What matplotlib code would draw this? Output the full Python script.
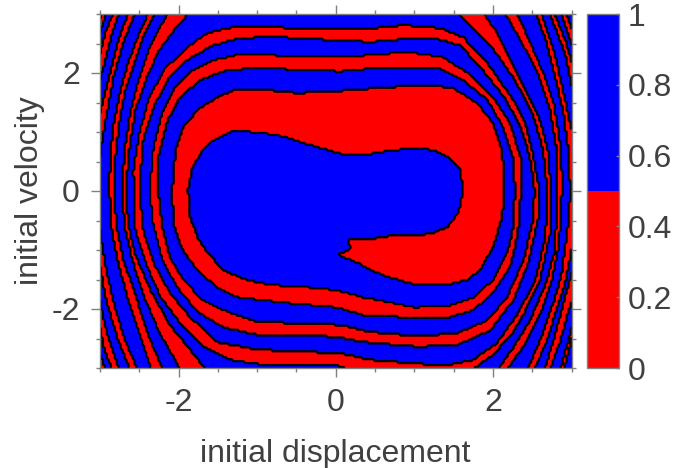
import numpy as np
import matplotlib
matplotlib.use("Agg")
import matplotlib.pyplot as plt
from matplotlib.path import Path
from matplotlib.ticker import MultipleLocator

# basin boundaries as (displacement, velocity).
# Both edges start at the tip of the red tongue and wind outward,
# the points at +-3.06 are where an edge runs outside the plotted window
edge_a_turn1 = [(.04,-1.07),(.08,-1.05),(.16,-1.02),(.18,-.95),(.16,-.83),(.22,-.80),(.50,-.80),(.69,-.76),
    (1.20,-.73),(1.42,-.61),(1.56,-.37),(1.62,.02),(1.58,.36),(1.42,.58),(1.24,.69),(.99,.73),(.69,.68),(.44,.63),
    (.06,.63),(-.41,.81),(-.74,.95),(-1.09,1.00),(-1.34,1.00),(-1.56,.86),(-1.72,.64),(-1.83,.36),(-1.88,.02),
    (-1.85,-.44),(-1.76,-.78),(-1.63,-1.05),(-1.43,-1.34),(-1.18,-1.49),(-.83,-1.59),(-.36,-1.63),(0,-1.68),
    (.35,-1.80),(.99,-1.97),(1.42,-1.95),(1.75,-1.81),(2.00,-1.51),(2.18,-1.05),(2.26,-.61),(2.28,.02)]
edge_a_turn2 = [(2.26,.53),(2.13,1.08),(1.93,1.54),(1.62,1.88),(1.33,2.08),(.91,2.10),(.48,2.08),(.06,2.03),
    (-.36,2.05),(-.87,2.08),(-1.09,2.08),(-1.43,2.03),(-1.72,1.88),(-1.98,1.59),(-2.14,1.20),(-2.26,.58),(-2.26,.02),
    (-2.21,-.61),(-2.11,-1.12),(-1.94,-1.51),(-1.69,-1.85),(-1.34,-2.07),(-1.00,-2.22),(-.49,-2.24),(.06,-2.27),
    (.44,-2.39),(1.04,-2.46),(1.55,-2.41),(1.93,-2.19),(2.18,-1.80),(2.39,-1.17),(2.51,-.49),(2.53,.02)]
edge_a_turn3 = [(2.47,.58),(2.35,1.08),(2.17,1.54),(1.84,2.10),(1.58,2.47),(1.24,2.59),(.91,2.58),(.48,2.53),
    (.06,2.54),(-.36,2.59),(-.87,2.61),(-1.21,2.59),(-1.56,2.47),(-1.89,2.22),(-2.14,1.88),(-2.32,1.42),(-2.45,.86),
    (-2.50,.02),(-2.45,-.66),(-2.32,-1.22),(-2.11,-1.73),(-1.85,-2.14),(-1.51,-2.56),(-1.00,-2.69),(.06,-2.75),
    (.44,-2.86),(1.04,-2.93),(1.42,-2.95),(1.75,-2.86),(2.05,-2.58),(2.32,-2.07),(2.54,-1.51),(2.67,-.78),(2.69,.02)]
edge_a_turn4 = [(2.64,.69),(2.51,1.29),(2.28,1.88),(1.97,2.47),(1.71,2.81),(1.50,3.06),(-1.84,3.06),(-2.08,2.69),
    (-2.26,2.36),(-2.42,1.88),(-2.55,1.37),(-2.63,.69),(-2.67,.02),(-2.64,-.58),(-2.55,-1.08),
    (-2.36,-1.68),(-2.11,-2.27),(-1.85,-2.69),(-1.64,-3.06)]
edge_a_turn5 = [(2.05,-3.06),(2.28,-2.61),(2.47,-2.19),(2.67,-1.59),(2.79,-1.00),(2.82,.02),(2.81,.69),(2.73,1.37),
    (2.58,1.97),(2.35,2.56),(2.13,3.06),(-2.29,3.06),(-2.44,2.64),(-2.56,2.19),(-2.68,1.71),(-2.75,1.20),(-2.80,.61),
    (-2.82,.02),(-2.79,-.58),(-2.70,-1.17),(-2.55,-1.76),(-2.39,-2.44),(-2.19,-3.06)]
edge_a_turn6 = [(2.43,-3.06),(2.60,-2.53),(2.78,-1.85),(2.87,-1.42),(2.93,-.83),(2.97,-.41),(2.98,.02),(2.96,.69),
    (2.89,1.37),(2.77,2.05),(2.67,2.56),(2.54,3.06),(-2.54,3.06),(-2.69,2.56),(-2.82,1.97),(-2.89,1.46),(-2.96,.95),
    (-3.00,.58),(-3.06,.30),(-3.06,-.40),(-3.00,-.66),(-2.93,-1.25),(-2.82,-1.93),(-2.68,-2.53),(-2.51,-3.06)]
edge_a_turn7 = [(2.65,-3.06),(2.79,-2.44),(2.89,-1.93),(2.98,-1.51),(3.02,-1.25),(3.06,-.60),(3.06,1.50),(3.01,1.71),
    (2.92,2.31),(2.71,3.06),(-2.75,3.06),(-2.85,2.64),(-2.93,2.22),(-3.00,1.88),(-3.06,1.50),(-3.06,-1.50),(-3.00,-1.85),
    (-2.92,-2.36),(-2.75,-3.06),(2.85,-3.06),(2.96,-2.53),(3.02,-2.19),(3.06,-1.50),(3.06,2.20),(2.98,2.56),(2.86,3.06),
    (-2.91,3.06),(-3.00,2.68),(-3.06,2.30),(-3.06,-2.50),(-3.00,-2.78),(-2.91,-3.06)]

edge_b_turn1 = [(.12,-1.14),(.29,-1.22),(.40,-1.31),(.66,-1.46),(1.04,-1.59),(1.42,-1.59),(1.67,-1.51),(1.84,-1.34),
    (2.00,-.95),(2.12,-.44),(2.14,.02),(2.12,.69),(2.00,1.15),(1.80,1.49),(1.49,1.75),(1.08,1.80),(.69,1.76),(.18,1.71),
    (0,1.69),(-.49,1.66),(-1.00,1.73),(-1.25,1.73),(-1.51,1.59),(-1.76,1.37),(-1.94,1.08),(-2.04,.69),(-2.08,.02),
    (-2.07,-.54),(-1.95,-1.00),(-1.76,-1.34),(-1.51,-1.64),(-1.25,-1.80),(-.74,-1.88),(0,-1.97),(.35,-2.10),(.99,-2.15),
    (1.42,-2.15),(1.75,-2.02),(2.00,-1.73),(2.22,-1.29),(2.32,-.71),(2.36,.02)]
edge_b_turn2 = [(2.35,.58),(2.22,1.15),(2.00,1.59),(1.71,1.97),(1.37,2.27),(.91,2.36),(.48,2.31),(0,2.27),(-.49,2.27),
    (-.87,2.31),(-1.25,2.31),(-1.56,2.22),(-1.85,2.02),(-2.07,1.71),(-2.21,1.32),(-2.32,.75),(-2.37,.02),(-2.33,-.54),
    (-2.21,-1.17),(-2.02,-1.63),(-1.76,-2.05),(-1.43,-2.31),(-1.00,-2.44),(0,-2.47),(.35,-2.56),(1.04,-2.64),(1.55,-2.61),
    (1.97,-2.36),(2.26,-1.85),(2.45,-1.22),(2.58,-.44),(2.59,.02)]
edge_b_turn3 = [(2.51,.64),(2.41,1.15),(2.26,1.54),(1.93,2.17),(1.62,2.61),(1.33,2.76),(.86,2.81),(.48,2.76),(0,2.75),
    (-.58,2.76),(-1.13,2.80),(-1.38,2.76),(-1.63,2.68),(-1.89,2.44),(-2.19,2.05),(-2.39,1.54),(-2.51,.92),(-2.58,.31),
    (-2.56,.02),(-2.55,-.66),(-2.42,-1.22),(-2.23,-1.80),(-1.98,-2.24),(-1.69,-2.64),(-1.34,-2.86),(-.92,-2.95),(0,-2.95),
    (.25,-3.06),(1.70,-3.06),(1.97,-2.81),(2.22,-2.47),(2.40,-2.07),(2.60,-1.51),(2.73,-.71),(2.74,.02)]
edge_b_turn4 = [(2.70,.69),(2.60,1.20),(2.41,1.71),(2.16,2.39),(2.03,2.73),(1.85,3.06),(-2.11,3.06),(-2.26,2.73),
    (-2.39,2.36),(-2.51,1.88),(-2.61,1.37),(-2.69,.69),(-2.72,.02),(-2.69,-.58),(-2.59,-1.17),(-2.45,-1.76),(-2.23,-2.44),
    (-1.96,-3.06)]
edge_b_turn5 = [(2.16,-3.06),(2.40,-2.61),(2.60,-2.10),(2.75,-1.51),(2.84,-.92),(2.88,.02),(2.87,.69),(2.78,1.46),
    (2.65,1.97),(2.47,2.53),(2.29,3.06),(-2.37,3.06),(-2.51,2.64),(-2.64,2.19),(-2.74,1.71),(-2.82,1.20),(-2.87,.61),
    (-2.88,.02),(-2.86,-.58),(-2.78,-1.17),(-2.64,-1.85),(-2.49,-2.44),(-2.34,-3.06)]
edge_b_turn6 = [(2.52,-3.06),(2.69,-2.53),(2.83,-1.93),(2.93,-1.51),(3.01,-.92),(3.06,-.30),(3.06,.60),(3.01,.98),
    (2.92,1.54),(2.79,2.31),(2.61,3.06),(-2.63,3.06),(-2.77,2.56),(-2.88,1.97),(-2.96,1.54),(-3.00,1.32),(-3.06,1.00),
    (-3.06,-1.00),(-3.00,-1.29),(-2.92,-1.85),(-2.77,-2.53),(-2.61,-3.06)]
edge_b_turn7 = [(2.72,-3.06),(2.86,-2.53),(2.95,-2.10),(3.01,-1.85),(3.06,-1.50),(3.06,1.90),(3.01,2.14),(2.92,2.56),
    (2.77,3.06),(-2.82,3.06),(-2.92,2.73),(-3.00,2.31),(-3.06,2.00),(-3.06,-2.00),(-3.00,-2.31),(-2.96,-2.61),(-2.84,-3.06),
    (2.90,-3.06),(3.01,-2.44),(3.06,-2.00),(3.06,2.60),(3.01,2.73),(2.92,3.06),(-2.97,3.06),(-3.00,2.93),(-3.06,2.80),
    (-3.06,-2.90),(-2.99,-3.06)]

edge_a = edge_a_turn1 + edge_a_turn2 + edge_a_turn3 + edge_a_turn4 + edge_a_turn5 + edge_a_turn6 + edge_a_turn7
edge_b = edge_b_turn1 + edge_b_turn2 + edge_b_turn3 + edge_b_turn4 + edge_b_turn5 + edge_b_turn6 + edge_b_turn7

cbar_ticks = [0, 0.2, 0.4, 0.6, 0.8, 1]
cbar_labels = ["0", "0.2", "0.4", "0.6", "0.8", "1"]
axis_ticks = [-2, 0, 2]

RED = "#ff0000"
BLUE = "#0000ff"
FRAME = "#808080"
TEXT = "#404040"

plt.rcParams["font.family"] = ["Liberation Sans", "DejaVu Sans"]
plt.rcParams["axes.unicode_minus"] = False

# grid just fine enough that the thin outer bands survive
red_arm = Path(np.array(edge_a + edge_b[::-1]))
xs = np.linspace(-3, 3, 241)
ys = np.linspace(-3, 3, 181)
xx, yy = np.meshgrid(xs, ys)
inside = red_arm.contains_points(np.column_stack([xx.ravel(), yy.ravel()]))
basin = np.where(inside, 0.0, 1.0).reshape(xx.shape)

W, H = 683, 468
fig = plt.figure(figsize=(W / 100, H / 100), dpi=100)
ax = fig.add_axes([100 / W, 1 - 368 / H, 471.5 / W, 354 / H])
cf = ax.contourf(xx, yy, basin, levels=[0, 0.5, 1], colors=[RED, BLUE])
ax.contour(xx, yy, basin, levels=[0.5], colors="k", linewidths=1.6)
ax.set_xlim(-3, 3)
ax.set_ylim(-3, 3)

ax.set_xticks(axis_ticks)
ax.set_yticks(axis_ticks)
ax.xaxis.set_minor_locator(MultipleLocator(0.5))
ax.yaxis.set_minor_locator(MultipleLocator(0.5))
ax.tick_params(which="major", direction="out", length=6.5, width=1, color=FRAME, labelcolor=TEXT,
               labelsize=23, top=True, right=True, pad=8)
ax.tick_params(which="minor", direction="out", length=3, width=1, color=FRAME, top=True, right=True)
for s in ax.spines.values():
    s.set_color(FRAME)
    s.set_linewidth(1)
ax.set_xlabel("initial displacement", fontsize=23, color=TEXT, labelpad=15)
ax.set_ylabel("initial velocity", fontsize=23, color=TEXT, labelpad=4.5)

cax = fig.add_axes([587 / W, 1 - 368 / H, 32 / W, 354 / H])
cb = fig.colorbar(cf, cax=cax, ticks=cbar_ticks)
cb.ax.set_yticklabels(cbar_labels)
cb.ax.tick_params(direction="in", length=2.5, width=1, color=FRAME, labelcolor=TEXT, labelsize=23, pad=6)
cb.outline.set_edgecolor(FRAME)
cb.outline.set_linewidth(1)

fig.savefig("out.png", dpi=100)
